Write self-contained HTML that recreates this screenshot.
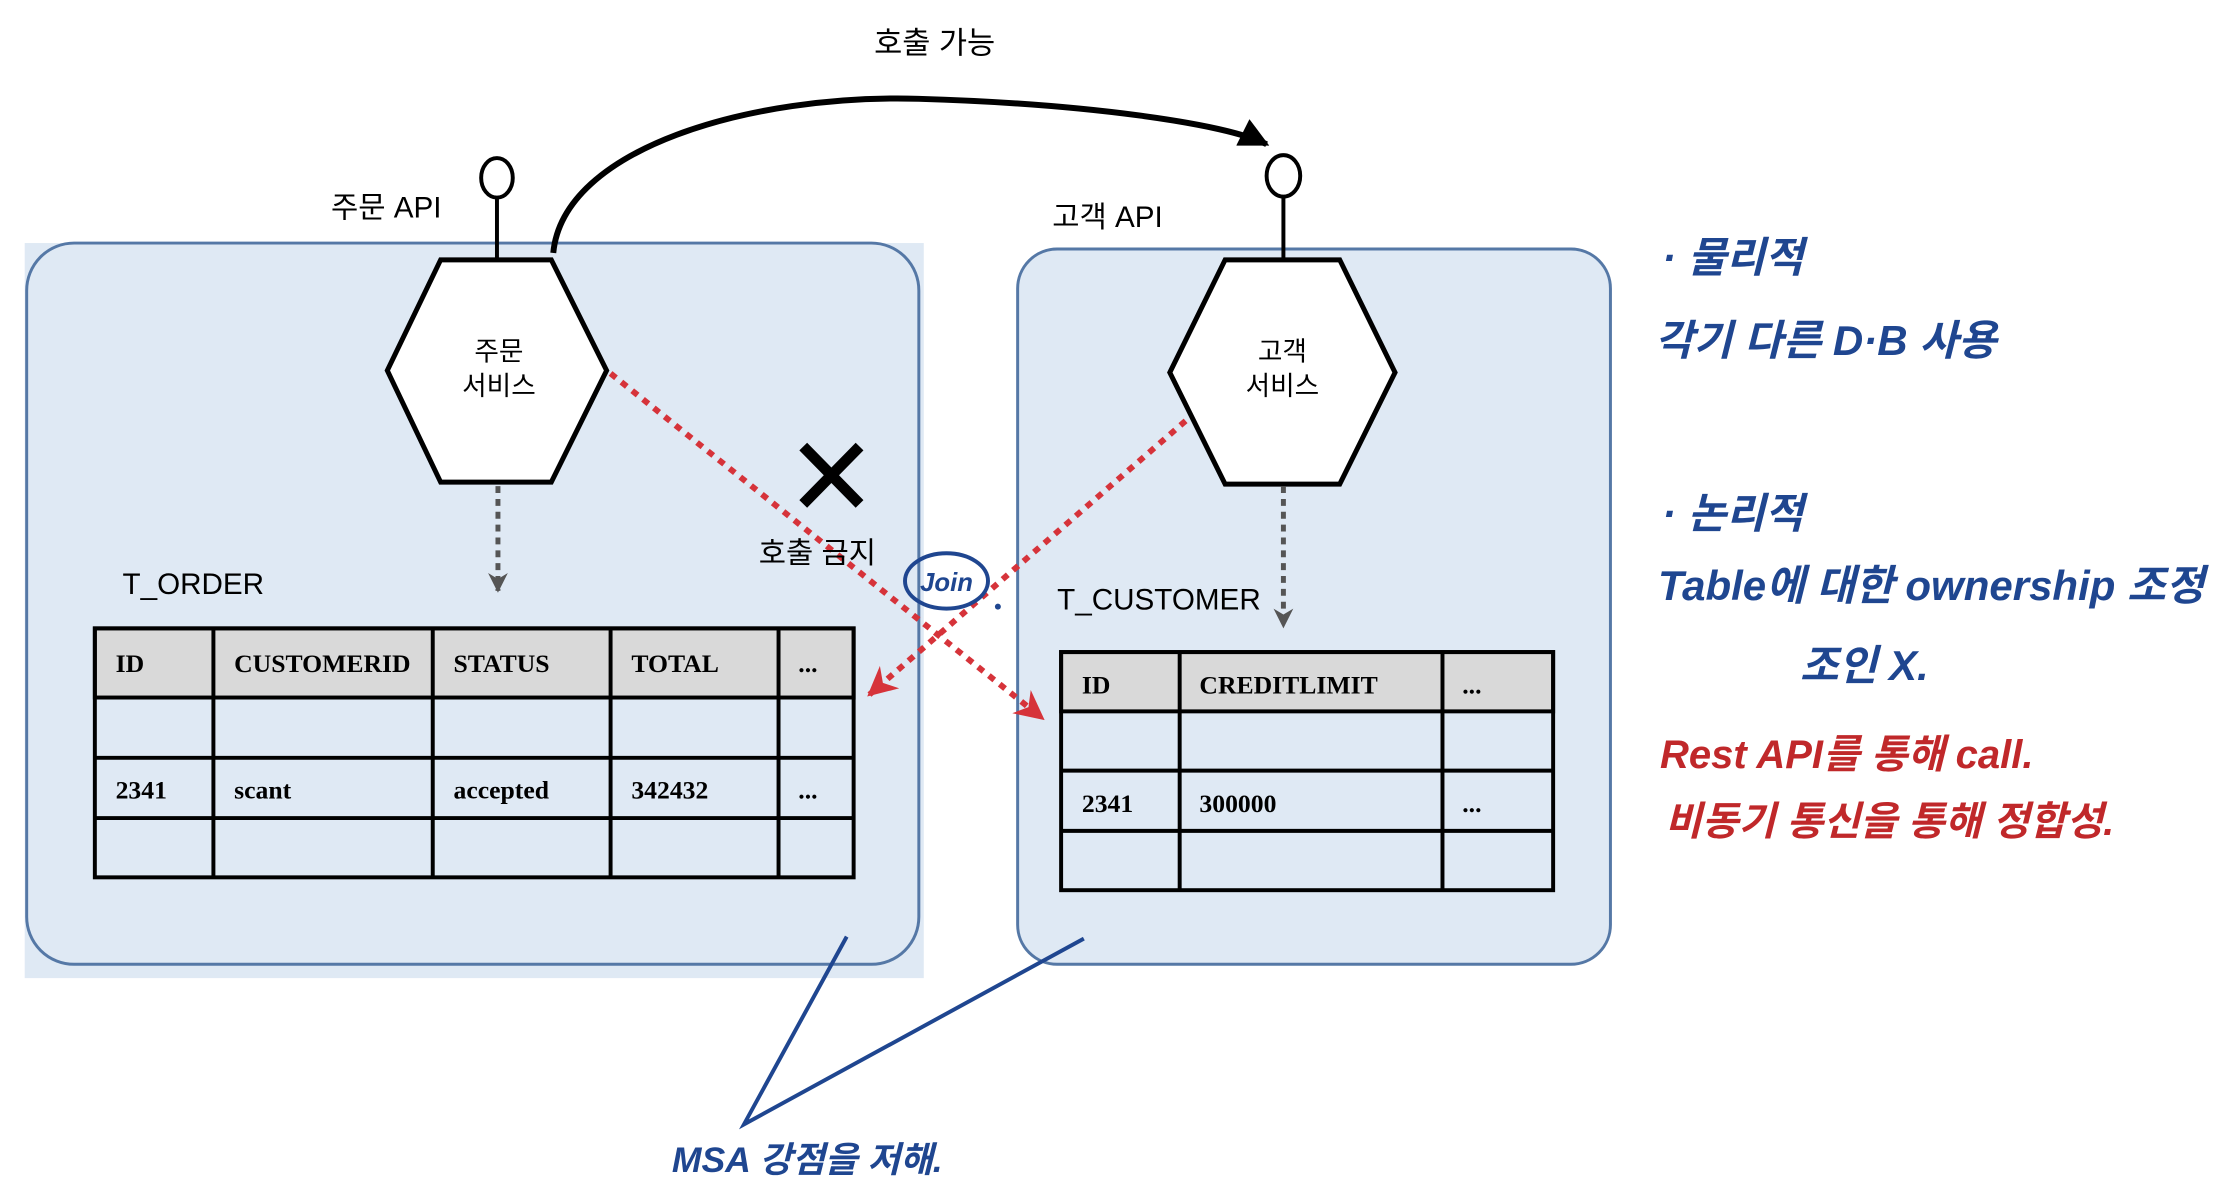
<!DOCTYPE html>
<html><head><meta charset="utf-8"><style>
html,body{margin:0;padding:0;background:#fff;}
svg{display:block}
.k{font-family:"Liberation Sans","Noto Sans CJK KR",sans-serif;}
.t{font-family:"Liberation Serif",serif;font-weight:bold;font-size:26px;}
.h{font-family:"Liberation Sans","Noto Sans CJK KR",sans-serif;font-weight:bold;font-style:italic;}
</style></head><body>
<svg width="2234" height="1188" viewBox="0 0 2234 1188" xmlns="http://www.w3.org/2000/svg">
<defs>
<marker id="ab" viewBox="0 0 10 10" refX="9" refY="5" markerWidth="5" markerHeight="5" orient="auto"><path d="M0,0 L10,5 L0,10 z" fill="#000"/></marker>
<marker id="ag" viewBox="0 0 10 10" refX="9" refY="5" markerWidth="4" markerHeight="5" orient="auto"><path d="M0,0 L10,5 L0,10 L3,5 z" fill="#555"/></marker>
<marker id="ar" viewBox="0 0 10 10" refX="9" refY="5" markerWidth="5" markerHeight="5" orient="auto"><path d="M0,0 L10,5 L0,10 L3,5 z" fill="#d6333a"/></marker>
</defs>
<g transform="scale(0.988)">
<rect x="25" y="246" width="910" height="744" fill="#dfe9f4"/>
<rect x="27" y="246" width="903" height="730" rx="48" fill="#dfe9f4" stroke="#5578a6" stroke-width="3"/>
<rect x="1030" y="252" width="600" height="724" rx="40" fill="#dfe9f4" stroke="#5578a6" stroke-width="3"/>
<path d="M560,256 C570,150 760,95 930,100 C1100,105 1240,125 1282,146" fill="none" stroke="#000" stroke-width="6" marker-end="url(#ab)"/>
<text x="946" y="54" class="k" font-size="31" text-anchor="middle">호출 가능</text>
<line x1="503" y1="198" x2="503" y2="262" stroke="#000" stroke-width="4"/>
<ellipse cx="503" cy="180" rx="16" ry="20" fill="#fff" stroke="#000" stroke-width="4"/>
<line x1="1299" y1="198" x2="1299" y2="262" stroke="#000" stroke-width="4"/>
<ellipse cx="1299" cy="178" rx="17" ry="21" fill="#fff" stroke="#000" stroke-width="4"/>
<text x="335" y="220" class="k" font-size="30">주문 API</text>
<text x="1065" y="230" class="k" font-size="30">고객 API</text>
<polygon points="446,263 558,263 614,375 558,488 446,488 392,375" fill="#fff" stroke="#000" stroke-width="5"/>
<text x="505" y="365" class="k" font-size="27" text-anchor="middle">주문</text>
<text x="505" y="400" class="k" font-size="27" text-anchor="middle">서비스</text>
<polygon points="1240,263 1356,263 1412,377 1356,490 1240,490 1184,377" fill="#fff" stroke="#000" stroke-width="5"/>
<text x="1298" y="365" class="k" font-size="27" text-anchor="middle">고객</text>
<text x="1298" y="400" class="k" font-size="27" text-anchor="middle">서비스</text>
<line x1="504" y1="492" x2="504" y2="598" stroke="#555" stroke-width="5" stroke-dasharray="7,6" marker-end="url(#ag)"/>
<line x1="1299" y1="492" x2="1299" y2="634" stroke="#555" stroke-width="5" stroke-dasharray="7,6" marker-end="url(#ag)"/>
<text x="124" y="601" class="k" font-size="30">T_ORDER</text>
<text x="1070" y="617" class="k" font-size="30">T_CUSTOMER</text>
<g stroke="#000" stroke-width="4" fill="none">
<rect x="96" y="636" width="768" height="70" fill="#d9d9d9"/>
<rect x="96" y="636" width="768" height="252"/>
<line x1="96" y1="767" x2="864" y2="767"/><line x1="96" y1="828" x2="864" y2="828"/>
<line x1="216" y1="636" x2="216" y2="888"/><line x1="438" y1="636" x2="438" y2="888"/>
<line x1="618" y1="636" x2="618" y2="888"/><line x1="788" y1="636" x2="788" y2="888"/>
</g>
<g class="t">
<text x="117" y="680">ID</text><text x="237" y="680">CUSTOMERID</text><text x="459" y="680">STATUS</text><text x="639" y="680">TOTAL</text><text x="808" y="680">...</text>
<text x="117" y="808">2341</text><text x="237" y="808">scant</text><text x="459" y="808">accepted</text><text x="639" y="808">342432</text><text x="808" y="808">...</text>
</g>
<g stroke="#000" stroke-width="4" fill="none">
<rect x="1074" y="660" width="498" height="60" fill="#d9d9d9"/>
<rect x="1074" y="660" width="498" height="241"/>
<line x1="1074" y1="780" x2="1572" y2="780"/><line x1="1074" y1="841" x2="1572" y2="841"/>
<line x1="1194" y1="660" x2="1194" y2="901"/><line x1="1460" y1="660" x2="1460" y2="901"/>
</g>
<g class="t">
<text x="1095" y="702">ID</text><text x="1214" y="702">CREDITLIMIT</text><text x="1480" y="702">...</text>
<text x="1095" y="822">2341</text><text x="1214" y="822">300000</text><text x="1480" y="822">...</text>
</g>
<line x1="618" y1="378" x2="1055" y2="727" stroke="#d6333a" stroke-width="6" stroke-dasharray="7,7" marker-end="url(#ar)"/>
<line x1="1200" y1="426" x2="880" y2="703" stroke="#d6333a" stroke-width="6" stroke-dasharray="7,7" marker-end="url(#ar)"/>
<path d="M813,452 L870,510 M870,452 L813,510" stroke="#000" stroke-width="11"/>
<text x="768" y="570" class="k" font-size="30">호출 금지</text>
<ellipse cx="958" cy="588" rx="42" ry="28" fill="none" stroke="#1f4690" stroke-width="4"/>
<text x="958" y="598" class="h" font-size="26" fill="#1f4690" text-anchor="middle">Join</text>
<circle cx="1010" cy="614" r="3" fill="#1f4690"/>
<polyline points="857,948 753,1138 1097,950" fill="none" stroke="#1f4690" stroke-width="4"/>
<text x="680" y="1186" class="h" font-size="36" fill="#1f4690">MSA  강점을  저해.</text>
</g>
<g class="h" fill="#1f4690" font-size="42">
<text x="1662" y="272">· 물리적</text>
<text x="1655" y="355">각기  다른  D·B  사용</text>
<text x="1662" y="528">· 논리적</text>
<text x="1658" y="600">Table에  대한  ownership 조정</text>
<text x="1800" y="680">조인 X.</text>
</g>
<g class="h" fill="#c0282a" font-size="40">
<text x="1660" y="768">Rest API를  통해  call.</text>
<text x="1665" y="835">비동기 통신을  통해  정합성.</text>
</g>
</svg>
</body></html>
